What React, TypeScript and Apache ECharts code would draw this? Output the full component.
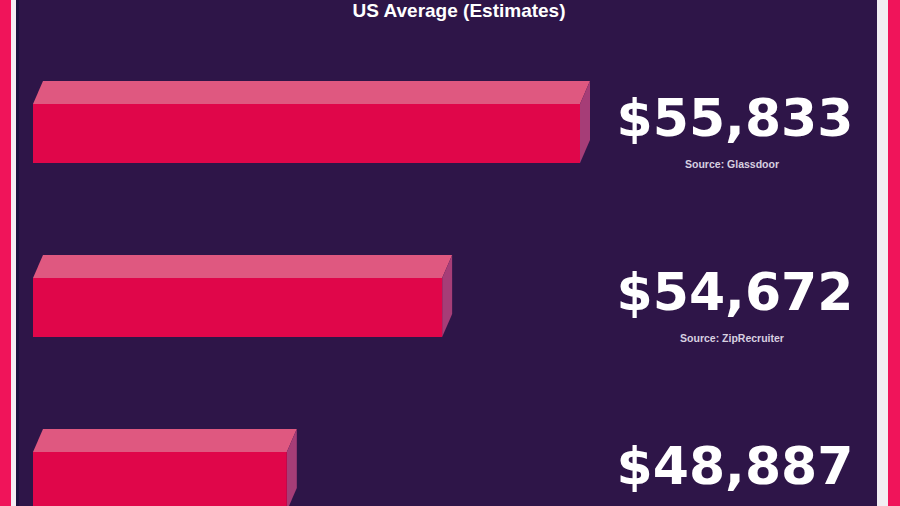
import React, { useEffect, useRef } from "react";
import * as echarts from "echarts";

const categories = ["Glassdoor", "ZipRecruiter", "Other"];
const salaryLabels = ["$55,833", "$54,672", "$48,887"];
const sourceLabels = ["Source: Glassdoor", "Source: ZipRecruiter", ""];
// Visual bar lengths (share of the longest bar, %);
// the reference's bars are illustrative and not proportional to the salaries.
const barLengths = [100, 74.8, 46.4];
const titleText = "US Average (Estimates)";

const BG = "#2e1548";
const PINK = "#f0145a";
const FRONT = "#e0064a";
const TOP = "#df5880";
const SIDE = "#a63d77";

export default function App() {
  const ref = useRef<HTMLDivElement>(null);
  useEffect(() => {
    if (!ref.current) return;
    const chart = echarts.init(ref.current, null, { renderer: "svg" });
    const H = 506;
    const labelX = 735;
    const option: any = {
      animation: false,
      backgroundColor: BG,
      grid: { left: 33, width: 547, top: 46.5, bottom: 0 },
      xAxis: { type: "value", min: 0, max: 100, show: false },
      // category positions 0..n-1; the last band runs off the bottom edge
      yAxis: { type: "value", min: -0.5, max: 2.141, inverse: true, show: false },
      graphic: [
        { type: "rect", shape: { x: 0, y: 0, width: 11, height: H }, style: { fill: PINK } },
        { type: "rect", shape: { x: 11, y: 0, width: 5, height: H }, style: { fill: "#f4eef4" } },
        { type: "rect", shape: { x: 16, y: 0, width: 3, height: H }, style: { fill: "#1d1240" } },
        { type: "rect", shape: { x: 877, y: 0, width: 11, height: H }, style: { fill: "#f2eef3" } },
        { type: "rect", shape: { x: 888, y: 0, width: 12, height: H }, style: { fill: PINK } },
        {
          type: "text",
          x: 459,
          y: 10,
          style: {
            text: titleText,
            fill: "#ffffff",
            font: "bold 19px 'Liberation Sans', Arial, sans-serif",
            textAlign: "center",
            textVerticalAlign: "middle",
          },
        },
      ],
      series: [
        {
          type: "custom",
          name: "Salary",
          encode: { x: 0, y: 1 },
          data: barLengths.map((v, i) => [v, i, categories[i]]),
          clip: false,
          renderItem: (params: any, api: any) => {
            const idx = api.value(1);
            const start = api.coord([0, idx]);
            const end = api.coord([api.value(0), idx]);
            const band = api.size([0, 1])[1];
            const h = band * 0.34;
            const depth = band * 0.132;
            const dx = 10;
            const x0 = start[0];
            const x1 = end[0];
            const yT = start[1] - h / 2;
            const yB = start[1] + h / 2;
            const children: any[] = [
              {
                type: "polygon",
                shape: { points: [[x0, yT], [x1, yT], [x1 + dx, yT - depth], [x0 + dx, yT - depth]] },
                style: { fill: TOP },
              },
              {
                type: "polygon",
                shape: { points: [[x1, yT], [x1 + dx, yT - depth], [x1 + dx, yB - depth], [x1, yB]] },
                style: { fill: SIDE },
              },
              {
                type: "rect",
                shape: { x: x0, y: yT, width: x1 - x0, height: h },
                style: { fill: FRONT },
              },
              {
                type: "text",
                x: labelX,
                y: start[1] - 15,
                style: {
                  text: salaryLabels[idx],
                  fill: "#ffffff",
                  font: "bold 52px 'DejaVu Sans', sans-serif",
                  textAlign: "center",
                  textVerticalAlign: "middle",
                },
              },
            ];
            if (sourceLabels[idx]) {
              children.push({
                type: "text",
                x: labelX - 3,
                y: start[1] + 31,
                style: {
                  text: sourceLabels[idx],
                  fill: "#d8d0e0",
                  font: "bold 10.5px 'Liberation Sans', Arial, sans-serif",
                  textAlign: "center",
                  textVerticalAlign: "middle",
                },
              });
            }
            return { type: "group", children };
          },
        },
      ],
    };
    chart.setOption(option);
    return () => chart.dispose();
  }, []);
  return (
    <div
      ref={ref}
      style={{ position: "fixed", left: 0, top: 0, width: 900, height: 506 }}
    />
  );
}
